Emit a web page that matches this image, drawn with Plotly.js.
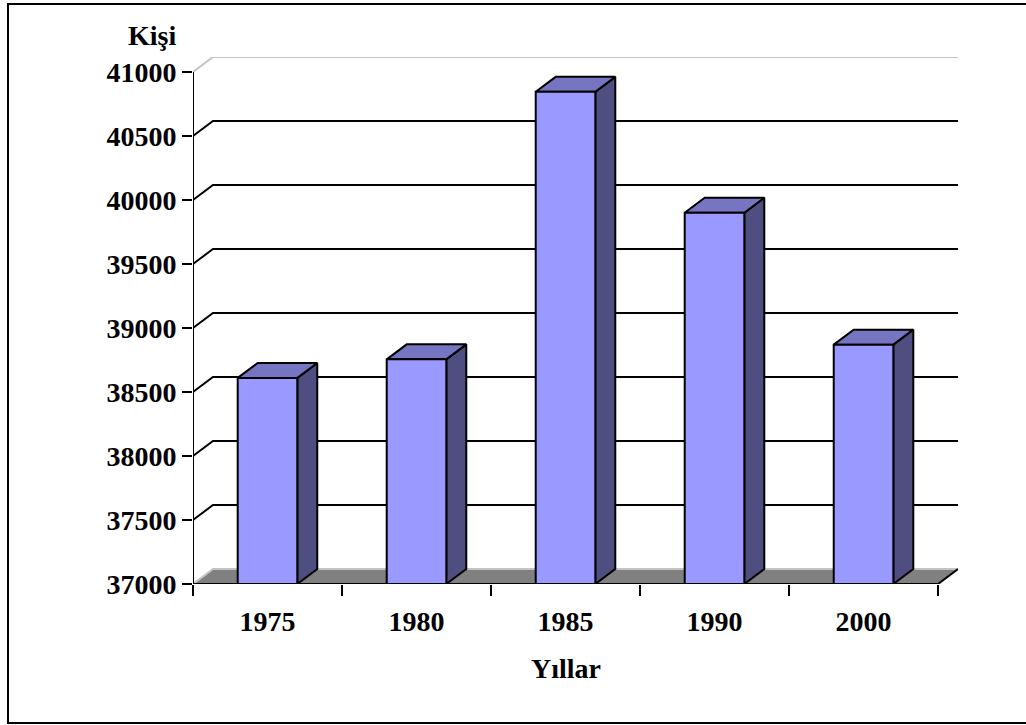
<!DOCTYPE html>
<html>
<head>
<meta charset="utf-8">
<script src="https://cdn.plot.ly/plotly-3.0.1.min.js"></script>
<style>html,body{margin:0;padding:0;background:#fff;}#chart{width:1026px;height:725px;}</style>
</head>
<body>
<div id="chart"></div>
<script>
// ---- data ----
const years = ['1975', '1980', '1985', '1990', '2000'];
const people = [38610, 38755, 40845, 39900, 38870];
const yTicks = [37000, 37500, 38000, 38500, 39000, 39500, 40000, 40500, 41000];
const yTitle = 'Kişi';
const xTitle = 'Yıllar';

// ---- 3D geometry (in axis units) ----
const base = 37000;
const yTop = 41000;
const barW = 0.40;      // bar width in category units
const dx = 0.134;       // depth offset along x (category units)
const dy = 117;         // depth offset along y (value units)
const n = years.length;
const xs = years.map((_, i) => i);

const FONT = {family: '"Liberation Serif", "Times New Roman", serif', size: 28, color: '#000', weight: 700};

const traces = [];
// floor
traces.push({
  x: [-0.5, n - 0.5, n - 0.5 + dx, -0.5 + dx, -0.5],
  y: [base, base, base + dy, base + dy, base],
  mode: 'lines', fill: 'toself', fillcolor: '#808080',
  line: {width: 0, color: 'rgba(0,0,0,0)'}, hoverinfo: 'skip', showlegend: false
});
// back-wall gridlines + left-wall diagonals
yTicks.forEach(v => {
  const light = (v === base || v === yTop);
  traces.push({
    x: [-0.5, -0.5 + dx, n - 0.5 + dx],
    y: [v, v + dy, v + dy],
    mode: 'lines',
    line: {color: light ? '#c4c4c4' : '#000', width: 2},
    hoverinfo: 'skip', showlegend: false
  });
});
// floor right edge + front edge (x axis line) + y axis line
traces.push({
  x: [n - 0.5 + dx, n - 0.5, -0.5, -0.5],
  y: [base + dy, base, base, yTop],
  mode: 'lines', line: {color: '#000', width: 2},
  hoverinfo: 'skip', showlegend: false
});

// bar faces
const frontX = [], frontY = [], sideX = [], sideY = [], topX = [], topY = [];
xs.forEach((c, i) => {
  const v = people[i];
  const l = c - barW / 2, r = c + barW / 2;
  frontX.push(l, r, r, l, l, null);
  frontY.push(base, base, v, v, base, null);
  sideX.push(r, r + dx, r + dx, r, r, null);
  sideY.push(base, base + dy, v + dy, v, base, null);
  topX.push(l, r, r + dx, l + dx, l, null);
  topY.push(v, v, v + dy, v + dy, v, null);
});
traces.push({x: sideX, y: sideY, mode: 'lines', fill: 'toself', fillcolor: '#4e4e80',
  line: {color: '#000', width: 2}, hoverinfo: 'skip', showlegend: false});
traces.push({x: topX, y: topY, mode: 'lines', fill: 'toself', fillcolor: '#7575c2',
  line: {color: '#000', width: 2}, hoverinfo: 'skip', showlegend: false});
traces.push({x: frontX, y: frontY, mode: 'lines', fill: 'toself', fillcolor: '#9999ff',
  line: {color: '#000', width: 2}, hoverinfo: 'skip', showlegend: false});
// hover points
traces.push({x: xs, y: people, mode: 'markers', marker: {size: 1, color: 'rgba(0,0,0,0)'},
  text: years, hovertemplate: '%{text}: %{y}<extra></extra>', showlegend: false});

// pixel helpers for paper-referenced decorations
const W = 1026, H = 725, mL = 193, mR = 68, mT = 57, mB = 141;
const pw = W - mL - mR, ph = H - mT - mB;
const px = p => (p - mL) / pw;
const py = p => (H - mB - p) / ph;

const layout = {
  width: W, height: H,
  margin: {l: mL, r: mR, t: mT, b: mB, pad: 0},
  paper_bgcolor: '#fff', plot_bgcolor: 'rgba(0,0,0,0)',
  showlegend: false,
  font: FONT,
  xaxis: {
    range: [-0.5, n - 0.5 + dx],
    tickvals: xs, ticktext: years,
    ticks: '', showgrid: false, zeroline: false, showline: false,
    tickfont: FONT, ticklabelstandoff: 18,
    minor: {tickvals: xs.concat([n]).map(i => i - 0.5), ticks: 'outside', ticklen: 11, tickwidth: 2, tickcolor: '#000', showgrid: false},
    fixedrange: true
  },
  yaxis: {
    range: [base, yTop + dy],
    tickvals: yTicks, ticktext: yTicks.map(String),
    ticks: 'outside', ticklen: 10, tickwidth: 2, tickcolor: '#000',
    showgrid: false, zeroline: false, showline: false,
    tickfont: FONT, fixedrange: true
  },
  annotations: [
    {xref: 'paper', yref: 'paper', x: px(152), y: py(35), text: yTitle, showarrow: false,
     xanchor: 'center', yanchor: 'middle', font: FONT},
    {xref: 'x', yref: 'paper', x: (n - 1) / 2, y: py(668), text: xTitle, showarrow: false,
     xanchor: 'center', yanchor: 'middle', font: FONT}
  ],
  shapes: [
    {type: 'rect', xref: 'paper', yref: 'paper', x0: px(8), x1: px(1032), y0: py(723), y1: py(4),
     line: {color: '#000', width: 2}, fillcolor: 'rgba(0,0,0,0)', layer: 'below'}
  ]
};

Plotly.newPlot('chart', traces, layout, {displayModeBar: false, staticPlot: false});
</script>
</body>
</html>
